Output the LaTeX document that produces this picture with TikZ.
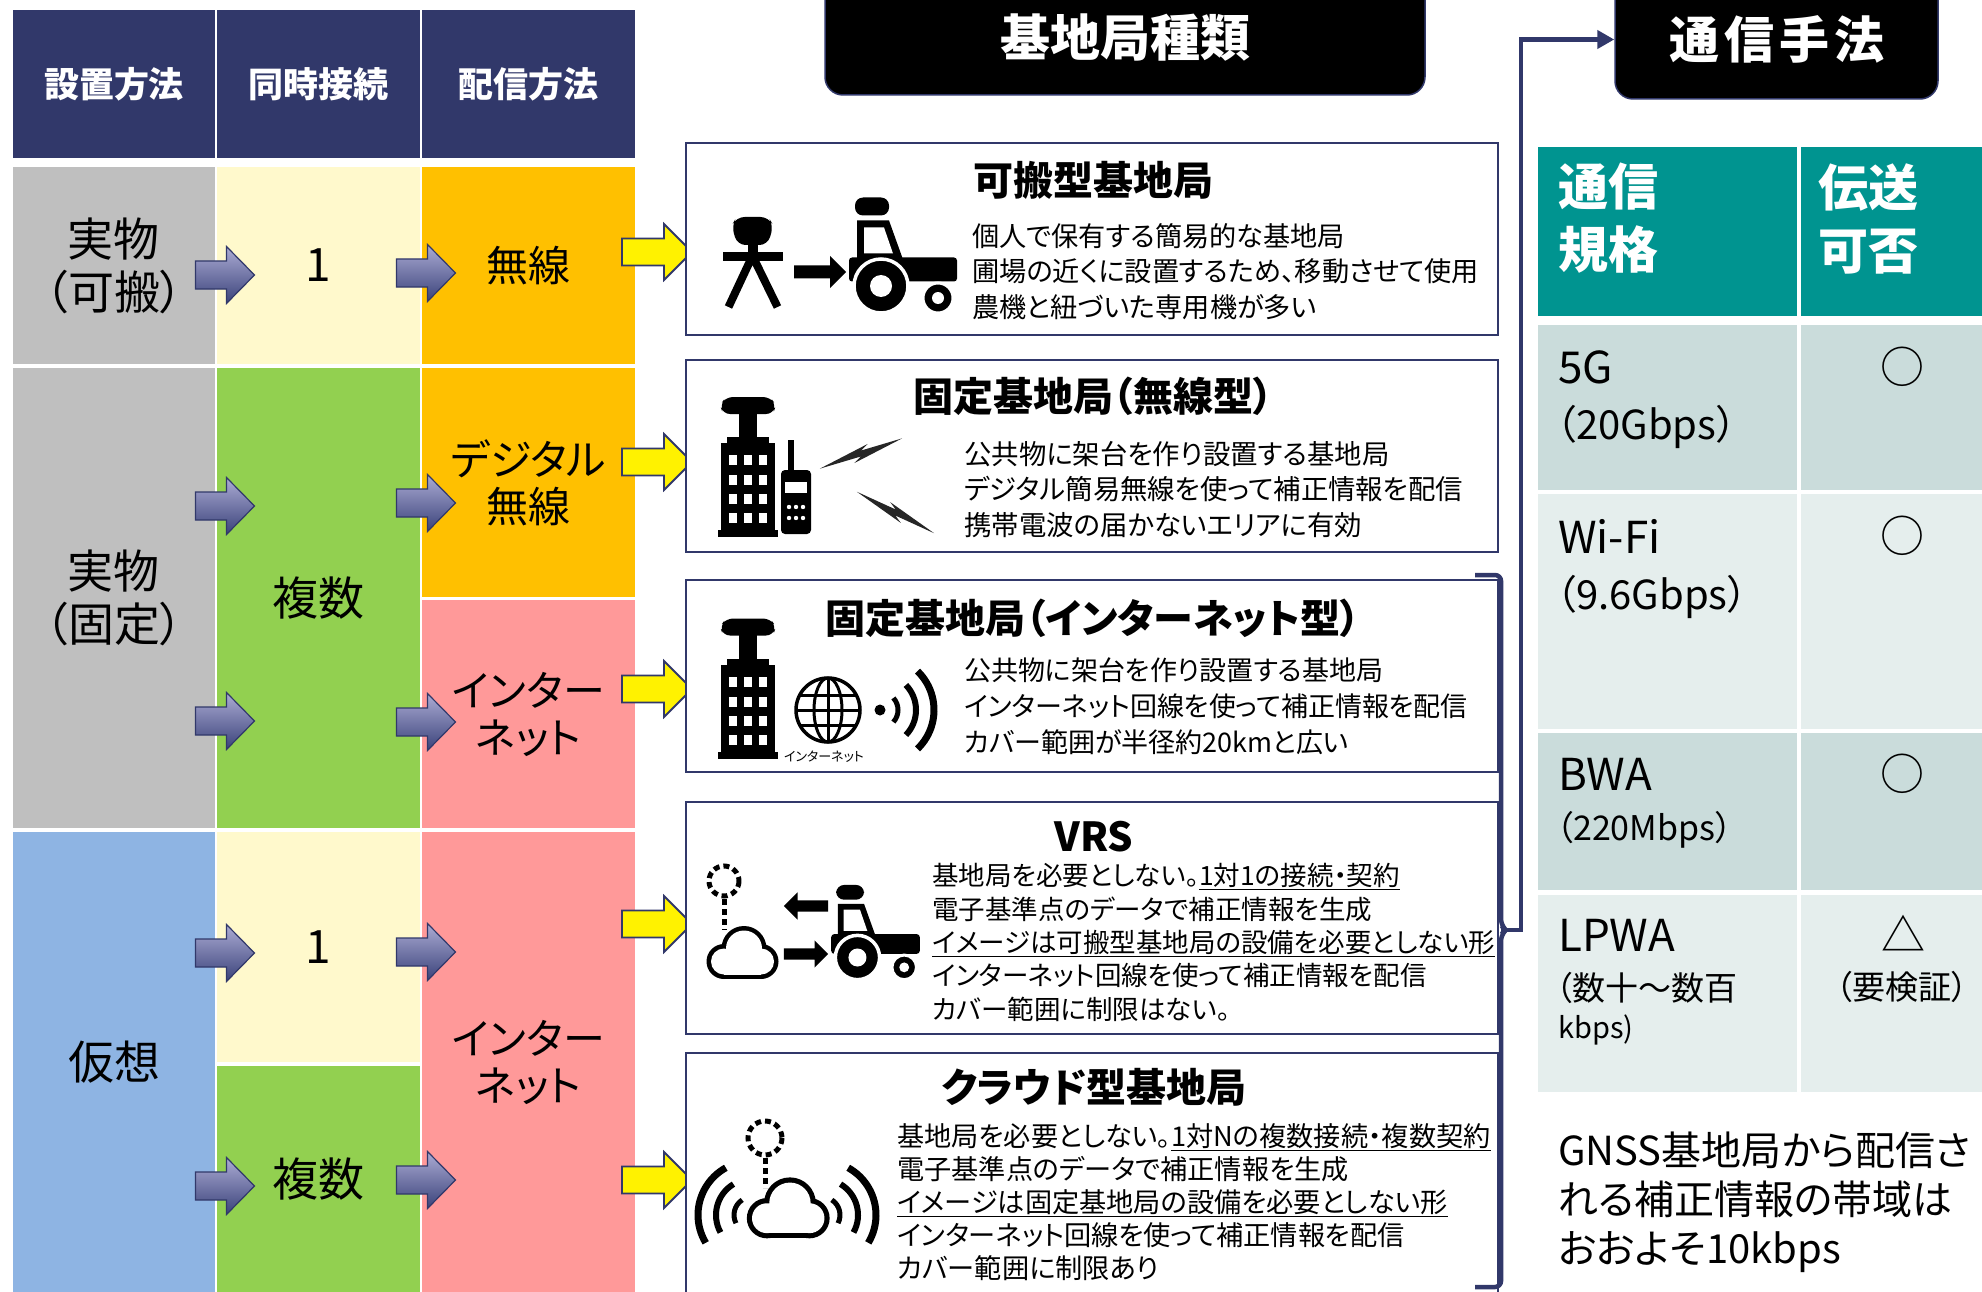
\documentclass[tikz,border=0pt]{standalone}
\usepackage{fontspec}
\setmainfont{Noto Sans CJK JP}[RawFeature=+palt]
\usetikzlibrary{positioning,arrows.meta}
\definecolor{navyhd}{RGB}{49,56,106}
\definecolor{cellgray}{RGB}{191,191,191}
\definecolor{cellcream}{RGB}{255,249,204}
\definecolor{cellorange}{RGB}{255,192,0}
\definecolor{cellgreen}{RGB}{146,208,80}
\definecolor{cellpink}{RGB}{255,153,153}
\definecolor{cellblue}{RGB}{142,180,227}
\definecolor{tealhd}{RGB}{0,148,144}
\definecolor{rowdark}{RGB}{202,220,219}
\definecolor{rowlight}{RGB}{229,238,237}
\definecolor{arrowtop}{RGB}{172,172,212}
\definecolor{arrowbot}{RGB}{58,66,122}
\definecolor{flashyellow}{RGB}{255,242,0}
\newcommand{\fsz}[2]{\fontsize{#1}{#2}\selectfont}

% block arrows and small icons
\tikzset{
  pics/navyarrow/.style={code={
    \path[draw=navyhd, line width=1.2pt, top color=arrowtop, bottom color=arrowbot]
      (-29,-14) -- (2,-14) -- (2,-28.5) -- (30,0) -- (2,28.5) -- (2,14) -- (-29,14) -- cycle;}},
  pics/flasharrow/.style={code={
    \path[draw=navyhd, line width=1.8pt, fill=flashyellow]
      (-35,-13.5) -- (7,-13.5) -- (7,-28) -- (35,0) -- (7,28) -- (7,13.5) -- (-35,13.5) -- cycle;}},
  pics/blackarrow/.style={code={
    \fill (-26,-6.5) -- (10,-6.5) -- (10,-16) -- (26,0) -- (10,16) -- (10,6.5) -- (-26,6.5) -- cycle;}},
  pics/tripod/.style={code={
    \begin{scope}[yscale=-1]
      \fill[rounded corners=8pt] (-15,17) -- (-21,36) -- (-16,45) -- (16,45) -- (21,36) -- (15,17) -- cycle;
      \fill (-5,18) rectangle (5,8);
      \fill (-30,10) rectangle (30,1);
      \draw[line width=8pt] (-2,2) -- (-24,-45) (2,2) -- (25,-45);
    \end{scope}}},
  pics/tractor/.style={code={
    \begin{scope}[yscale=-1]
      \fill[rounded corners=8pt] (-48,40) rectangle (-14,58);
      \fill (-46,-4) -- (-46,35) -- (-14,35) -- (0,-4) -- cycle;
      \fill[white] (-39,2) -- (-39,28) -- (-19,28) -- (-10,2) -- cycle;
      \fill[rounded corners=3pt] (-54,-26) rectangle (54,-2);
      \filldraw[draw=white, line width=3.5pt] (-22,-30.5) circle (27);
      \fill[white] (-22,-30.5) circle (11);
      \filldraw[draw=white, line width=3pt] (35,-42.5) circle (15);
      \fill[white] (35,-42.5) circle (6);
    \end{scope}}},
  pics/building/.style={code={
    \begin{scope}[yscale=-1]
      \fill[rounded corners=7pt] (-25,53) -- (-28,62) -- (-22,70) -- (22,70) -- (28,62) -- (25,53) -- cycle;
      \fill (-9,55) rectangle (9,28);
      \fill (-21,30) rectangle (21,22);
      \fill (-27,24) rectangle (27,-64);
      \fill (-30,-63) rectangle (30,-70);
      \foreach \wy in {7,-13,-32,-51}
        \foreach \wx in {-15,0,15}
          \fill[white] (\wx-4,\wy-5) rectangle (\wx+4,\wy+5);
    \end{scope}}},
  pics/globe/.style={code={
    \draw[line width=3.5pt] (0,0) circle (32);
    \draw[line width=3pt] (0,0) ellipse (14 and 32);
    \draw[line width=3pt] (0,-32) -- (0,32) (-32,0) -- (32,0) (-28,-15) -- (28,-15) (-28,15) -- (28,15);}},
  pics/waves/.style={code={
    \begin{scope}[yscale=-1]
      \draw[line width=5pt] (-42:18) arc (-42:42:18);
      \draw[line width=6pt] (-44:36) arc (-44:44:36);
      \draw[line width=7pt] (-46:54) arc (-46:46:54);
    \end{scope}}},
  pics/bolt/.style={code={
    \begin{scope}[yscale=-1]
      \fill[black!85] (-40,-18) -- (6,10) -- (0,3) -- (40,18) -- (-6,-10) -- (0,-3) -- cycle;
    \end{scope}}},
  pics/cloud/.style={code={
    \begin{scope}[yscale=-1]
      \fill (-17,-8) circle (17.5) (3,5) circle (22.5) (20,-8) circle (17.5);
      \fill (-17,-25.5) rectangle (20,-8);
      \fill[white] (-17,-8) circle (13) (3,5) circle (18) (20,-8) circle (13);
      \fill[white] (-17,-21) rectangle (20,-8);
    \end{scope}}},
}

\begin{document}
\begin{tikzpicture}[x=1pt, y=-1pt,
  every node/.style={inner sep=0pt},
  hdcell/.style={fill=navyhd, text=white, font=\fsz{35}{42}\bfseries, minimum height=148pt},
  cell/.style={font=\fsz{46}{53}, align=center},
  cellsm/.style={font=\fsz{42}{47}, align=center},
  kbox/.style={draw=navyhd, line width=1.8pt, fill=white, minimum width=812pt},
  ktitle/.style={font=\fsz{40}{48}\bfseries},
  kbody/.style={anchor=west, align=left},
  ttlbox/.style={fill=black, draw=navyhd, line width=1.5pt, rounded corners=18pt,
                 text=white, font=\fsz{50}{60}\bfseries},
  tcell/.style={minimum width=259pt},
  tcellr/.style={minimum width=181pt},
  thtxt/.style={anchor=west, align=left, text=white, font=\fsz{50}{63}\bfseries},
  rname/.style={anchor=west, font=\fsz{44}{50}},
  rrate/.style={anchor=west, font=\fsz{40}{46}},
  rmark/.style={font=\fsz{44}{50}},
  mast/.style={line width=5pt, dash pattern=on 6pt off 4pt},
  brk/.style={draw=navyhd, line width=4.5pt, rounded corners=6pt},
  conn/.style={draw=navyhd, line width=4.5pt, -{Triangle[length=17pt,width=18pt]}},
]
\useasboundingbox (0,0) rectangle (1982,1292);
\fill[white] (0,0) rectangle (1982,1292);

% left table
\node[hdcell, minimum width=202pt] (hd1) at (114,84)   {設置方法};
\node[hdcell, minimum width=203pt] (hd2) at (318.5,84) {同時接続};
\node[hdcell, minimum width=213pt] (hd3) at (528.5,84) {配信方法};

\node[cell, fill=cellgray,   minimum width=202pt, minimum height=197pt] (c1a) at (114,265.5)   {実物\\（可搬）};
\node[cell, fill=cellcream,  minimum width=203pt, minimum height=197pt] (c2a) at (318.5,265.5) {1};
\node[cellsm, fill=cellorange, minimum width=213pt, minimum height=197pt] (c3a) at (528.5,265.5) {無線};
\node[cell, fill=cellgray,   minimum width=202pt, minimum height=460pt] (c1b) at (114,598)     {実物\\（固定）};
\node[cell, fill=cellgreen,  minimum width=203pt, minimum height=460pt] (c2b) at (318.5,598)   {複数};
\node[cellsm, fill=cellorange, minimum width=213pt, minimum height=229pt] (c3b) at (528.5,482.5) {デジタル\\無線};
\node[cellsm, fill=cellpink, minimum width=213pt, minimum height=228pt] (c3c) at (528.5,714)   {インター\\ネット};
\node[cell, fill=cellblue,   minimum width=202pt, minimum height=460pt] (c1c) at (114,1062)    {仮想};
\node[cell, fill=cellcream,  minimum width=203pt, minimum height=230pt] (c2c) at (318.5,947)   {1};
\node[cell, fill=cellgreen,  minimum width=203pt, minimum height=226pt] (c2d) at (318.5,1179)  {複数};
\node[cellsm, fill=cellpink, minimum width=213pt, minimum height=460pt] (c3d) at (528.5,1062)  {インター\\ネット};

\pic at (224.5,275)  {navyarrow};
\pic at (425.5,273)  {navyarrow};
\pic at (224.5,506)  {navyarrow};
\pic at (425.5,503)  {navyarrow};
\pic at (224.5,721)  {navyarrow};
\pic at (425.5,722)  {navyarrow};
\pic at (224.5,953)  {navyarrow};
\pic at (425.5,952)  {navyarrow};
\pic at (224.5,1186) {navyarrow};
\pic at (425.5,1180) {navyarrow};

\foreach \ay in {252,462,689,924,1180}
  \pic at (657,\ay) {flasharrow};

% station types
\node[ttlbox, minimum width=600pt, minimum height=115pt] (ttl1) at (1125,37.5) {基地局種類};

\node[kbox, minimum height=192pt] (kb1) at (1092,239) {};
\node[kbox, minimum height=192pt] (kb2) at (1092,456) {};
\node[kbox, minimum height=192pt] (kb3) at (1092,676) {};
\node[kbox, minimum height=232pt] (kb4) at (1092,918) {};
\node[kbox, minimum height=247pt] (kb5) at (1092,1176.5) {};

\node[ktitle] (kt1) at (1093,180)  {可搬型基地局};
\node[ktitle] (kt2) at (1093,396)  {固定基地局（無線型）};
\node[ktitle] (kt3) at (1093,618)  {固定基地局（インターネット型）};
\node[ktitle] (kt4) at (1094,837)  {VRS};
\node[ktitle] (kt5) at (1094,1087) {クラウド型基地局};

\node[kbody, font=\fsz{27.2}{35.5}] (kd1) at (972,271.5)
  {個人で保有する簡易的な基地局\\圃場の近くに設置するため、移動させて使用\\農機と紐づいた専用機が多い};
\node[kbody, font=\fsz{27.4}{35.5}] (kd2) at (964,489.5)
  {公共物に架台を作り設置する基地局\\デジタル簡易無線を使って補正情報を配信\\携帯電波の届かないエリアに有効};
\node[kbody, font=\fsz{27}{36}] (kd3) at (964,706)
  {公共物に架台を作り設置する基地局\\インターネット回線を使って補正情報を配信\\カバー範囲が半径約20kmと広い};
\node[kbody, font=\fsz{26.5}{33.3}] (kd4) at (932,942.5)
  {基地局を必要としない。\underline{1対1の接続・契約}\\電子基準点のデータで補正情報を生成\\
   \underline{イメージは可搬型基地局の設備を必要としない形}\\インターネット回線を使って補正情報を配信\\
   カバー範囲に制限はない。};
\node[kbody, font=\fsz{27.2}{33}] (kd5) at (897,1202)
  {基地局を必要としない。\underline{1対Nの複数接続・複数契約}\\電子基準点のデータで補正情報を生成\\
   \underline{イメージは固定基地局の設備を必要としない形}\\インターネット回線を使って補正情報を配信\\
   カバー範囲に制限あり};

% icons
\pic at (752.5,262) {tripod};
\pic at (820,272) {blackarrow};
\pic at (903,255.5) {tractor};

\pic at (748,467) {building};
\fill (788,440) rectangle (794,474);
\fill[rounded corners=4pt] (781,470) rectangle (811,534);
\fill[white] (785,482) rectangle (807,493);
\foreach \dx in {789,796,803}
  \foreach \dy in {507,518}
    \fill[white] (\dx,\dy) circle (2.2);
\pic[rotate=-4] at (861,453.5) {bolt};
\pic[xscale=-1, rotate=4] at (895.5,512.5) {bolt};

\pic at (748,688.5) {building};
\pic at (828,710) {globe};
\fill (880,710) circle (5.5);
\pic at (880,710) {waves};
\node[font=\fsz{13}{15}] (netlbl) at (824,757) {インターネット};

\draw[mast] (724,881) circle (15);
\draw[mast] (724,899) -- (724,930);
\pic at (741,953.5) {cloud};
\pic[rotate=180, scale=0.85] at (806,906) {blackarrow};
\pic[scale=0.85] at (806,954) {blackarrow};
\pic[scale=0.82] at (875.5,932.5) {tractor};

\pic[rotate=165] at (752,1215) {waves};
\pic[rotate=15] at (822,1215) {waves};
\draw[mast] (765,1138) circle (17);
\draw[mast] (765,1158) -- (765,1188);
\pic[scale=1.15] at (786.5,1209) {cloud};

% bracket and link to the methods table
\draw[brk] (1475,575) -- (1501,575) -- (1501,925) -- (1506,930) -- (1501,935) -- (1501,1287) -- (1475,1287);
\node[ttlbox, minimum width=323pt, minimum height=119pt] (ttl2) at (1776.5,39.5)
  {\addfontfeatures{LetterSpace=10}通信手法};
\coordinate (brkmid) at (1505,930);
\coordinate (brkturn) at (1521,930);
\draw[conn] (brkmid) -- (brkturn) |- (ttl2.west);

% communication methods
\node[tcell,  fill=tealhd, minimum height=169pt] (tc1) at (1667.5,231.5) {};
\node[tcellr, fill=tealhd, minimum height=169pt] (tc2) at (1891.5,231.5) {};
\node[tcell,  fill=rowdark,  minimum height=165pt] (r1a) at (1667.5,407.5) {};
\node[tcellr, fill=rowdark,  minimum height=165pt] (r1b) at (1891.5,407.5) {};
\node[tcell,  fill=rowlight, minimum height=235pt] (r2a) at (1667.5,611.5) {};
\node[tcellr, fill=rowlight, minimum height=235pt] (r2b) at (1891.5,611.5) {};
\node[tcell,  fill=rowdark,  minimum height=157pt] (r3a) at (1667.5,811.5) {};
\node[tcellr, fill=rowdark,  minimum height=157pt] (r3b) at (1891.5,811.5) {};
\node[tcell,  fill=rowlight, minimum height=197pt] (r4a) at (1667.5,993.5) {};
\node[tcellr, fill=rowlight, minimum height=197pt] (r4b) at (1891.5,993.5) {};

\node[thtxt] (th1) at (1558,218.5) {通信\\規格};
\node[thtxt] (th2) at (1818,218.5) {伝送\\可否};

\node[rname] (n5g)   at (1558,367)  {5G};
\node[rrate] (s5g)   at (1556,427)  {（20Gbps）};
\node[rname] (nwifi) at (1558,536)  {Wi-Fi};
\node[rrate] (swifi) at (1556,597)  {（9.6Gbps）};
\node[rname] (nbwa)  at (1558,774)  {BWA};
\node[rrate, font=\fsz{34}{40}] (sbwa)  at (1556,830)  {（220Mbps）};
\node[rname] (nlpwa) at (1558,935)  {LPWA};
\node[rrate, font=\fsz{33}{40}] (slpwa) at (1556,988)  {（数十～数百};
\node[rrate, font=\fsz{29}{35}] (klpwa) at (1558,1030) {kbps)};

\node[rmark] (m5g)   at (1902,367) {○};
\node[rmark] (mwifi) at (1902,536) {○};
\node[rmark] (mbwa)  at (1902,774) {○};
\node[rmark] (mlpwa) at (1903,933) {△};
\node[font=\fsz{33}{40}] (vlpwa) at (1902,987) {（要検証）};

\node[anchor=west, align=left, font=\fsz{40}{49}] (note) at (1558,1202)
  {GNSS基地局から配信さ\\れる補正情報の帯域は\\おおよそ10kbps};
\end{tikzpicture}
\end{document}
